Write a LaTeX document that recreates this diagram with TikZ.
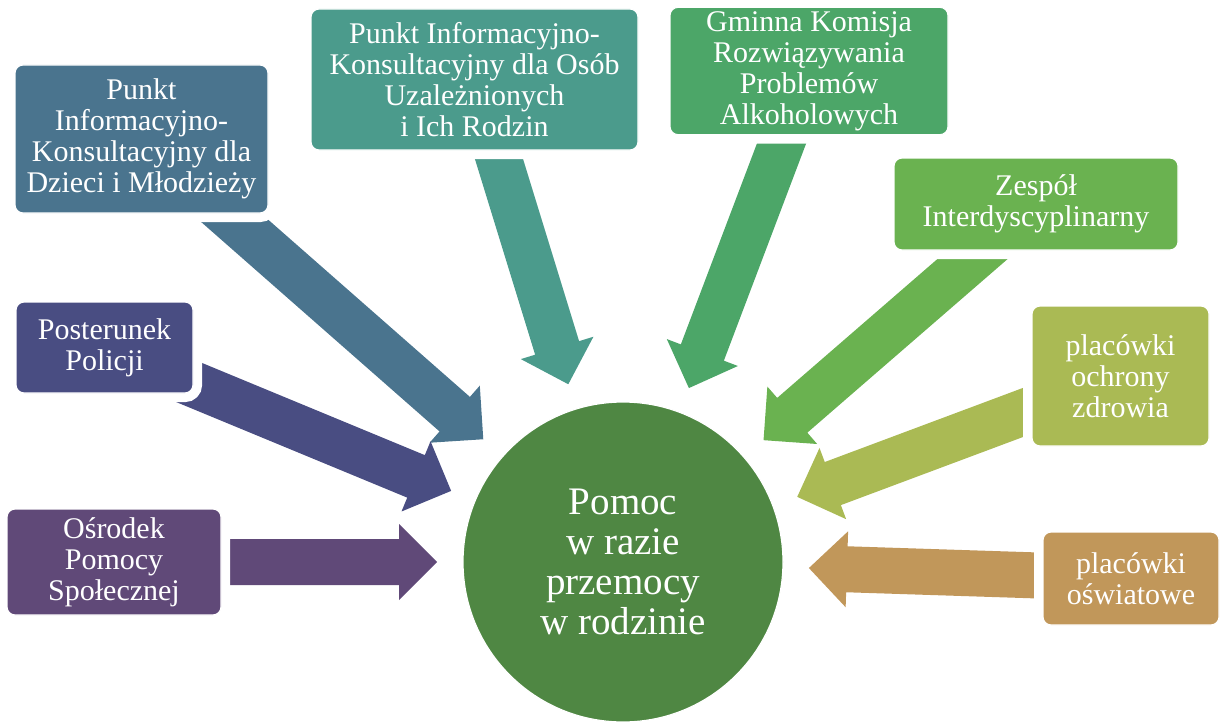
\documentclass[tikz,border=0pt]{standalone}
\usepackage{fontspec}
\setmainfont{Liberation Serif}
\usepackage{xcolor}
\usepackage{tikz}
\usetikzlibrary{calc, backgrounds}

\definecolor{kolDzieci}{RGB}{74,116,142}
\definecolor{kolOsob}{RGB}{75,155,140}
\definecolor{kolKomisja}{RGB}{76,166,104}
\definecolor{kolZespol}{RGB}{106,178,80}
\definecolor{kolZdrowie}{RGB}{170,186,84}
\definecolor{kolOswiata}{RGB}{193,151,90}
\definecolor{kolPolicja}{RGB}{73,77,130}
\definecolor{kolOps}{RGB}{96,73,120}
\definecolor{kolPomoc}{RGB}{79,135,67}

\begin{document}
\begin{tikzpicture}[
    x=0.5pt, y=-0.5pt,
    box/.style={rectangle, rounded corners=4pt, fill=#1, draw=white, line width=0.6pt, preaction={draw=white, line width=9pt}, text=white, align=center, inner sep=2pt, font=\fontsize{15}{15.5}\selectfont},
    centre/.style={circle, fill=kolPomoc, draw=white, line width=0.6pt, minimum size=160pt, inner sep=0pt, text=white, align=center, font=\fontsize{19.5}{20}\selectfont}
]
\useasboundingbox (0,0) rectangle (1220,722);

% Centre
\node[centre] (pomoc) at (623,562) {Pomoc\\w razie\\przemocy\\w rodzinie};

% Boxes, left side
\node[box=kolDzieci, minimum width=126.5pt, minimum height=74pt] (dzieci) at (141.5,139) {Punkt\\Informacyjno-\\Konsultacyjny dla\\Dzieci i Młodzieży};
\node[box=kolPolicja, minimum width=88.5pt, minimum height=45.5pt] (policja) at (104.5,347.5) {Posterunek\\Policji};
\node[box=kolOps, minimum width=107pt, minimum height=53pt] (ops) at (114,562) {Ośrodek\\Pomocy\\Społecznej};

% Boxes, top
\node[box=kolOsob, minimum width=163.5pt, minimum height=70.5pt] (osob) at (474.5,79.5) {Punkt Informacyjno-\\Konsultacyjny dla Osób\\Uzależnionych\\i Ich Rodzin};
\node[box=kolKomisja, minimum width=139pt, minimum height=62pt] (gkrpa) at (809,71) {Gminna Komisja\\Rozwiązywania\\Problemów\\Alkoholowych};

% Boxes, right side
\node[box=kolZespol, minimum width=142pt, minimum height=46pt] (zespol) at (1036,204) {Zespół\\Interdyscyplinarny};
\node[box=kolZdrowie, minimum width=88.5pt, minimum height=70pt] (zdrowie) at (1120.5,376) {placówki\\ochrony\\zdrowia};
\node[box=kolOswiata, minimum width=88pt, minimum height=46.5pt] (oswiata) at (1131,578.5) {placówki\\oświatowe};

% Block arrows (behind the boxes)
\begin{scope}[on background layer]
\foreach \b/\k in {dzieci/kolDzieci, osob/kolOsob, gkrpa/kolKomisja, zespol/kolZespol, zdrowie/kolZdrowie, oswiata/kolOswiata, policja/kolPolicja, ops/kolOps}{
    \coordinate (\b-tip) at ($(pomoc.center)!93pt!(\b.center)$);
    \coordinate (\b-base) at ($(\b-tip)!19pt!(\b.center)$);
    \fill[\k] ($(\b.center)!11.5pt!90:(\b-tip)$) -- ($(\b-base)!11.5pt!-90:(\b.center)$)
        -- ($(\b-base)!19pt!-90:(\b.center)$) -- (\b-tip) -- ($(\b-base)!19pt!90:(\b.center)$)
        -- ($(\b-base)!11.5pt!90:(\b.center)$) -- ($(\b.center)!11.5pt!-90:(\b-tip)$) -- cycle;
}
\end{scope}

\end{tikzpicture}
\end{document}
